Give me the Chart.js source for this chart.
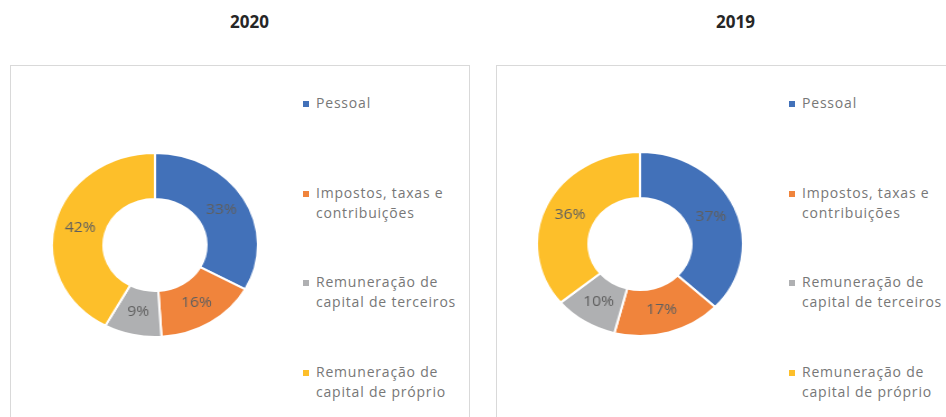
<!DOCTYPE html>
<html lang="pt-BR">
<head>
    <meta charset="UTF-8">
    <title>Distribuição do valor adicionado</title>
    <script src="https://cdn.jsdelivr.net/npm/chart.js"></script>
    <style>
        body {
            margin: 0;
            width: 946px;
            height: 417px;
            overflow: hidden;
            background: #fff;
            font-family: "Open Sans", Arial, sans-serif;
            position: relative;
        }

        .titulo {
            position: absolute;
            top: 11px;
            width: 479px;
            text-align: center;
            font-weight: bold;
            font-size: 17px;
            line-height: 22px;
            color: #262626;
        }

        .caixa {
            position: absolute;
            top: 65px;
            width: 458px;
            height: 400px;
            border: 1px solid #d9d9d9;
        }

        .rosca {
            position: absolute;
            width: 186px;
            height: 186px;
            transform: scaleX(1.12);
        }

        .legenda {
            position: absolute;
            top: 93px;
            font-size: 14px;
            line-height: 20px;
            letter-spacing: 0.8px;
            color: #777;
        }

        .item {
            position: relative;
            padding-left: 14px;
            height: 89.7px;
        }

        .item span {
            position: absolute;
            left: 1px;
            top: 8px;
            width: 6px;
            height: 6px;
        }
    </style>
</head>
<body>

    <div class="titulo" style="left:10px">2020</div>
    <div class="titulo" style="left:496px">2019</div>

    <div class="caixa" style="left:10px"></div>
    <div class="caixa" style="left:496px"></div>

    <div class="rosca" style="left:62px; top:152px"><canvas id="grafico2020"></canvas></div>
    <div class="rosca" style="left:547px; top:151px"><canvas id="grafico2019"></canvas></div>

    <div class="legenda" id="legenda2020" style="left:302px"></div>
    <div class="legenda" id="legenda2019" style="left:788px"></div>

    <script>
        // Categorias (com quebra de linha como no original)
        const categorias = [
            ["Pessoal"],
            ["Impostos, taxas e", "contribuições"],
            ["Remuneração de", "capital de terceiros"],
            ["Remuneração de", "capital de próprio"]
        ];

        // Valores em %
        const valores2020 = [33, 16, 9, 42];
        const valores2019 = [37, 17, 10, 36];

        const cores = ["#4271b9", "#f0843c", "#afb0b2", "#fdbf2a"];

        // Rótulos de porcentagem dentro das fatias
        const rotulosPlugin = {
            id: "rotulos",
            afterDatasetsDraw(chart) {
                const ctx = chart.ctx;
                const meta = chart.getDatasetMeta(0);
                const dados = chart.data.datasets[0].data;
                ctx.save();
                ctx.font = "14px 'Open Sans', Arial, sans-serif";
                ctx.fillStyle = "#5f5f5f";
                ctx.textAlign = "center";
                ctx.textBaseline = "middle";
                meta.data.forEach(function (arco, i) {
                    const pos = arco.tooltipPosition();
                    ctx.fillText(dados[i] + "%", pos.x, pos.y);
                });
                ctx.restore();
            }
        };

        function criarRosca(id, valores) {
            new Chart(document.getElementById(id), {
                type: "doughnut",
                data: {
                    labels: categorias,
                    datasets: [{
                        data: valores,
                        backgroundColor: cores,
                        borderColor: "#ffffff",
                        borderWidth: 2,
                        hoverOffset: 0
                    }]
                },
                options: {
                    responsive: true,
                    maintainAspectRatio: false,
                    animation: false,
                    cutout: "50%",
                    layout: { padding: 0 },
                    plugins: {
                        legend: { display: false },
                        tooltip: { enabled: false }
                    },
                    events: []
                },
                plugins: [rotulosPlugin]
            });
        }

        function criarLegenda(id) {
            const div = document.getElementById(id);
            categorias.forEach(function (linhas, i) {
                const item = document.createElement("div");
                item.className = "item";
                const marca = document.createElement("span");
                marca.style.background = cores[i];
                item.appendChild(marca);
                linhas.forEach(function (linha, j) {
                    if (j > 0) item.appendChild(document.createElement("br"));
                    item.appendChild(document.createTextNode(linha));
                });
                div.appendChild(item);
            });
        }

        criarRosca("grafico2020", valores2020);
        criarRosca("grafico2019", valores2019);
        criarLegenda("legenda2020");
        criarLegenda("legenda2019");
    </script>

</body>
</html>
